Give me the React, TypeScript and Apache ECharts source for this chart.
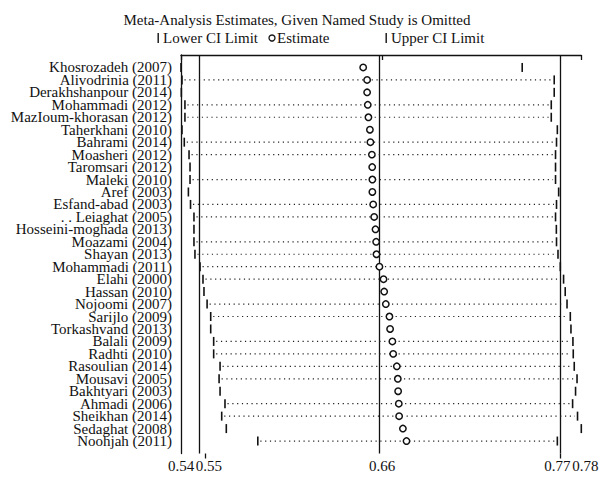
import React, { useEffect, useRef } from "react";
import * as echarts from "echarts";

const studies = [
  "Khosrozadeh (2007)",
  "Alivodrinia (2011)",
  "Derakhshanpour (2014)",
  "Mohammadi (2012)",
  "MazIoum-khorasan (2012)",
  "Taherkhani (2010)",
  "Bahrami (2014)",
  "Moasheri (2012)",
  "Taromsari (2012)",
  "Maleki (2010)",
  "Aref (2003)",
  "Esfand-abad (2003)",
  ". . Leiaghat (2005)",
  "Hosseini-moghada (2013)",
  "Moazami (2004)",
  "Shayan (2013)",
  "Mohammadi (2011)",
  "Elahi (2000)",
  "Hassan (2010)",
  "Nojoomi (2007)",
  "Sarijlo (2009)",
  "Torkashvand (2013)",
  "Balali (2009)",
  "Radhti (2010)",
  "Rasoulian (2014)",
  "Mousavi (2005)",
  "Bakhtyari (2003)",
  "Ahmadi (2006)",
  "Sheikhan (2014)",
  "Sedaghat (2008)",
  "Noohjah (2011)",
];

const estimates = [
  0.65, 0.6524, 0.6524, 0.6528, 0.6532, 0.6541, 0.6544, 0.6553, 0.6555, 0.6556,
  0.6556, 0.6561, 0.6567, 0.6575, 0.6579, 0.6581, 0.6599, 0.6624, 0.6628, 0.6638,
  0.666, 0.6664, 0.6678, 0.6683, 0.6705, 0.6711, 0.6713, 0.6717, 0.6719, 0.6742,
  0.6764,
];

const lowerCI = [
  0.539, 0.5396, 0.5392, 0.5414, 0.5414, 0.5396, 0.541, 0.5439, 0.5445, 0.5445,
  0.5435, 0.5448, 0.5469, 0.5469, 0.5469, 0.5475, 0.5506, 0.5524, 0.553, 0.5549,
  0.5571, 0.5571, 0.5589, 0.5589, 0.5628, 0.5622, 0.5628, 0.5658, 0.5638, 0.5666,
  0.5858,
];

const upperCI = [
  0.7469, 0.7664, 0.7664, 0.7646, 0.7646, 0.7683, 0.7678, 0.7672, 0.7672, 0.7672,
  0.7691, 0.7678, 0.7672, 0.7677, 0.7678, 0.7687, 0.7701, 0.7721, 0.7731, 0.7742,
  0.7762, 0.7766, 0.7778, 0.778, 0.7786, 0.7803, 0.7794, 0.7776, 0.7806, 0.7829,
  0.7683,
];

// rows where the dotted connector between the limits is visible
const dottedRows = [
  0, 1, 0, 1, 1, 0, 1, 1, 0, 1, 0, 1, 1, 0, 1, 1, 1, 1, 0, 1, 1, 0, 1, 1, 1, 1, 0,
  1, 1, 0, 1,
];

const pooledLower = 0.5536;
const pooledEstimate = 0.6616;
const pooledUpper = 0.7701;
const axisMin = 0.539;
const axisMax = 0.7829;
const outerTickValues = [axisMin, pooledEstimate, axisMax];
const limitTickValues = [pooledLower, pooledUpper];
const rowCount = studies.length;
// 0 and rowCount + 1 are empty padding slots at the ends of the row axis
const rowTickValues = [0, ...studies.map((_, i) => i + 1), rowCount + 1];

const FONT = "Liberation Serif";

export default function App() {
  const ref = useRef<HTMLDivElement>(null);

  useEffect(() => {
    if (!ref.current) return;
    const chart = echarts.init(ref.current, null, { renderer: "svg" });
    const rows = studies.map((_, i) => [
      i + 1,
      lowerCI[i],
      estimates[i],
      upperCI[i],
      dottedRows[i],
    ]);

    const richBase = { fontFamily: FONT, fontSize: 15, color: "#111" };
    const xRich = {
      c: { ...richBase },
      r: { ...richBase, padding: [0, 0, 0, 8] },
      l: { ...richBase, padding: [0, 6, 0, 0] },
    };
    const xLabelFormatter = (v: number) => {
      const t = v.toFixed(2);
      if (v === pooledLower || v === axisMax) return `{r|${t}}`;
      if (v === pooledUpper) return `{l|${t}}`;
      return `{c|${t}}`;
    };
    const xLabelStyle = {
      formatter: xLabelFormatter,
      rich: xRich,
      fontFamily: FONT,
      fontSize: 15,
      color: "#111",
      margin: 5,
      showMinLabel: true,
      showMaxLabel: true,
      hideOverlap: false,
    };

    chart.setOption({
      animation: false,
      backgroundColor: "#fff",
      title: {
        text: "Meta-Analysis Estimates, Given Named Study is Omitted",
        left: 292,
        top: 7,
        textAlign: "center",
        textStyle: {
          fontFamily: FONT,
          fontSize: 15,
          fontWeight: "normal",
          color: "#111",
        },
      },
      graphic: [
        {
          type: "rect",
          shape: { x: 157.5, y: 33, width: 1.4, height: 10 },
          style: { fill: "#111" },
        },
        {
          type: "text",
          x: 163,
          y: 38,
          style: {
            text: "Lower CI Limit",
            fontFamily: FONT,
            fontSize: 15,
            fill: "#111",
            verticalAlign: "middle",
          },
        },
        {
          type: "circle",
          shape: { cx: 272, cy: 38, r: 3 },
          style: { fill: "#fff", stroke: "#111", lineWidth: 1.3 },
        },
        {
          type: "text",
          x: 277,
          y: 38,
          style: {
            text: "Estimate",
            fontFamily: FONT,
            fontSize: 15,
            fill: "#111",
            verticalAlign: "middle",
          },
        },
        {
          type: "rect",
          shape: { x: 385.5, y: 33, width: 1.4, height: 10 },
          style: { fill: "#111" },
        },
        {
          type: "text",
          x: 391,
          y: 38,
          style: {
            text: "Upper CI Limit",
            fontFamily: FONT,
            fontSize: 15,
            fill: "#111",
            verticalAlign: "middle",
          },
        },
      ],
      grid: { left: 181, right: 27.7, top: 55, bottom: 26.5 },
      xAxis: [
        {
          type: "value",
          min: axisMin,
          max: axisMax,
          position: "bottom",
          splitLine: { show: false },
          axisLine: { show: true, lineStyle: { color: "#111", width: 1.3 } },
          axisTick: {
            show: true,
            customValues: outerTickValues,
            length: 5,
            lineStyle: { color: "#111", width: 1.3 },
          },
          axisLabel: { ...xLabelStyle, customValues: outerTickValues },
        },
        {
          type: "value",
          min: axisMin,
          max: axisMax,
          position: "bottom",
          offset: 0,
          splitLine: { show: false },
          axisLine: { show: false },
          axisTick: {
            show: true,
            customValues: limitTickValues,
            length: 5,
            lineStyle: { color: "#111", width: 1.3 },
          },
          axisLabel: { ...xLabelStyle, customValues: limitTickValues },
        },
      ],
      yAxis: {
        type: "value",
        inverse: true,
        min: 0,
        max: rowCount + 1,
        splitLine: { show: false },
        axisLine: { show: true, lineStyle: { color: "#111", width: 1.3 } },
        axisTick: { show: false },
        axisLabel: {
          customValues: rowTickValues,
          formatter: (v: number) => studies[Math.round(v) - 1] ?? "",
          fontFamily: FONT,
          fontSize: 15,
          lineHeight: 12,
          color: "#111",
          margin: 9,
          showMinLabel: false,
          showMaxLabel: false,
          hideOverlap: false,
        },
      },
      series: [
        {
          type: "line",
          xAxisIndex: 0,
          data: [],
          silent: true,
          markLine: {
            silent: true,
            symbol: ["none", "none"],
            label: { show: false },
            lineStyle: { color: "#111", width: 1.3, type: "solid" },
            data: [
              { xAxis: pooledLower },
              { xAxis: pooledEstimate },
              { xAxis: pooledUpper },
            ],
          },
        },
        {
          type: "custom",
          xAxisIndex: 0,
          data: rows,
          z: 5,
          encode: { x: [1, 2, 3], y: 0 },
          renderItem: (params: any, api: any) => {
            const row = api.value(0);
            const lo = api.coord([api.value(1), row]);
            const es = api.coord([api.value(2), row]);
            const up = api.coord([api.value(3), row]);
            const children: any[] = [];
            if (api.value(4)) {
              children.push({
                type: "line",
                shape: { x1: lo[0] + 2.5, y1: lo[1], x2: up[0] - 2.5, y2: up[1] },
                style: { stroke: "#222", lineWidth: 1.2, lineDash: [1.2, 3.6] },
              });
            }
            children.push({
              type: "rect",
              shape: { x: lo[0] - 0.8, y: lo[1] - 4.5, width: 1.6, height: 9 },
              style: { fill: "#111" },
            });
            children.push({
              type: "rect",
              shape: { x: up[0] - 0.8, y: up[1] - 4.5, width: 1.6, height: 9 },
              style: { fill: "#111" },
            });
            children.push({
              type: "circle",
              shape: { cx: es[0], cy: es[1], r: 3.2 },
              style: { fill: "#fff", stroke: "#111", lineWidth: 1.5 },
            });
            return { type: "group", children };
          },
        },
      ],
    });

    return () => chart.dispose();
  }, []);

  return (
    <div
      ref={ref}
      style={{ position: "fixed", left: 0, top: 0, width: 609, height: 480 }}
    />
  );
}
